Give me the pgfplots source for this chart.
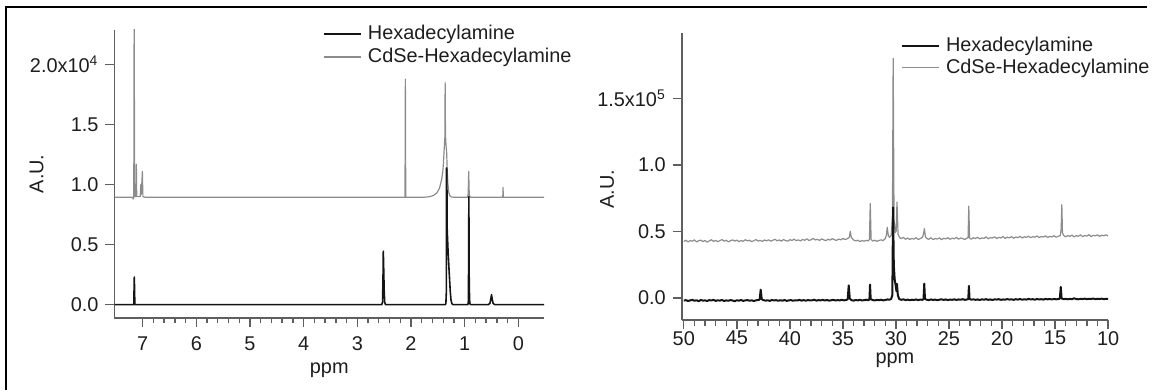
\documentclass[border=0pt]{standalone}
\usepackage{fontspec}
\setmainfont{Liberation Sans}
\usepackage{pgfplots}
\pgfplotsset{compat=1.18}

\definecolor{axisgray}{RGB}{95,95,95}
\definecolor{txt}{RGB}{30,30,30}
\definecolor{hda}{RGB}{20,20,20}
\definecolor{cdse}{RGB}{140,140,140}

\pgfplotsset{
  nmr/.style={
    scale only axis,
    axis lines*=left,
    axis line style={axisgray, line width=0.75pt},
    every tick/.style={axisgray, line width=0.7pt},
    tick align=outside,
    major tick length=4.5pt,
    minor tick length=2.8pt,
    x dir=reverse,
    ytick pos=left, xtick pos=bottom,
    minor y tick num=0,
    minor x tick num=4,
    /pgf/number format/assume math mode=true,
    tick label style={txt},
    label style={txt},
    clip=true,
    legend cell align=left,
    legend image code/.code={\draw[##1] (0pt,0pt) -- (18.5pt,0pt); \path (20.3pt,0pt);},
    legend style={draw=none, fill=none, inner sep=0pt, outer sep=0pt,
      row sep=0.5pt, text=txt, nodes={inner sep=1.2pt}},
  },
  hdaline/.style={hda, line width=0.8pt, line join=round},
  cdseline/.style={cdse, line width=0.6pt, line join=round},
}

\begin{document}
\begin{tikzpicture}[font=\fontsize{10}{12}\selectfont]
% page extent and frame
\path (0pt,0pt) rectangle (576pt,196pt);
\draw[line width=1pt] (3.15pt,0pt) -- (3.15pt,192.65pt) -- (576pt,192.65pt);

% ---------------- 1H NMR ----------------
\begin{axis}[nmr,
  at={(57.5pt,36.35pt)}, anchor=south west,
  width=215.85pt, height=144.65pt,
  xmin=-0.48, xmax=7.525, ymin=-0.11, ymax=2.29,
  xtick={0,1,2,3,4,5,6,7},
  ytick={0,0.5,1,1.5,2},
  yticklabels={0.0,0.5,1.0,1.5,{2.0x10\textsuperscript{4}}},
  xticklabel style={yshift=-1.5pt},
  xlabel={ppm}, ylabel={A.U.},
  xlabel style={at={(axis description cs:0.5,-0.182)}, anchor=center},
  ylabel style={at={(axis description cs:-0.181,0.5)}, anchor=center},
  legend style={at={(axis cs:3.63,2.35)}, anchor=north west},
]
\addlegendimage{hdaline}
\addlegendentry{Hexadecylamine}
\addlegendimage{cdseline}
\addlegendentry{CdSe-Hexadecylamine}

% CdSe-Hexadecylamine
\addplot[cdseline, forget plot] coordinates {
(7.52,0.895)(7.30,0.895)(7.19,0.895)(7.175,0.88)(7.165,0.895)
(7.157,2.6)(7.150,0.90)(7.125,0.90)(7.117,1.17)(7.110,0.90)
(7.045,0.90)(7.035,1.00)(7.025,0.92)(7.005,1.11)(6.995,0.90)(6.95,0.895)
(2.112,0.895)(2.105,1.88)(2.098,0.895)
(1.75,0.895)(1.65,0.90)(1.58,0.91)(1.52,0.93)(1.47,0.97)(1.43,1.04)
(1.41,1.10)(1.395,1.18)(1.385,1.27)(1.375,1.35)(1.368,1.40)(1.364,1.85)
(1.358,1.42)(1.348,1.33)(1.336,1.27)(1.325,1.12)(1.313,1.01)(1.298,0.94)
(1.28,0.91)(1.25,0.897)(1.20,0.895)
(0.95,0.895)(0.935,0.92)(0.925,1.11)(0.915,0.92)(0.90,0.895)
(0.29,0.895)(0.285,0.976)(0.28,0.895)(-0.48,0.895)
};
% Hexadecylamine
\addplot[hdaline, forget plot] coordinates {
(7.52,0)(7.165,0)(7.155,0.23)(7.145,0)
(2.545,0)(2.53,0.02)(2.522,0.21)(2.516,0.445)(2.51,0.33)(2.50,0.12)(2.49,0.02)(2.475,0)
(1.36,0)(1.35,0.01)(1.342,0.1)(1.338,1.14)(1.332,1.12)(1.327,0.64)(1.31,0.45)
(1.29,0.28)(1.27,0.12)(1.255,0.04)(1.24,0.01)(1.22,0)
(0.94,0)(0.93,0.03)(0.922,0.9)(0.915,0.15)(0.905,0.01)(0.89,0)
(0.56,0)(0.53,0.01)(0.515,0.04)(0.50,0.083)(0.485,0.04)(0.47,0.01)(0.44,0)
(-0.48,0)
};
\end{axis}

% ---------------- 13C NMR ----------------
\begin{axis}[nmr,
  at={(342.5pt,35.15pt)}, anchor=south west,
  width=214.15pt, height=144.2pt,
  xmin=10, xmax=50.19, ymin=-0.168, ymax=1.99,
  xtick={10,15,20,25,30,35,40,45,50},
  ytick={0,0.5,1,1.5},
  yticklabels={0.0,0.5,1.0,{1.5x10\textsuperscript{5}}},
  xticklabel style={yshift=2.5pt},
  xlabel={ppm}, ylabel={A.U.},
  xlabel style={at={(axis description cs:0.5,-0.138)}, anchor=center},
  ylabel style={at={(axis description cs:-0.175,0.457)}, anchor=center},
  legend style={at={(axis cs:29.5,1.98)}, anchor=north west, row sep=0pt},
]
\addlegendimage{hdaline, line width=1pt}
\addlegendentry{Hexadecylamine}
\addlegendimage{cdseline}
\addlegendentry{CdSe-Hexadecylamine}

% CdSe-Hexadecylamine
\addplot[cdseline, forget plot] coordinates {
(50.0,.424)(49.8,.433)(49.6,.420)(49.4,.430)(49.2,.426)(49.0,.436)(48.8,.421)(48.6,.429)
(48.4,.434)(48.2,.423)(48.0,.431)(47.8,.419)(47.6,.428)(47.4,.437)(47.2,.425)(47.0,.432)
(46.8,.422)(46.6,.430)(46.4,.438)(46.2,.426)(46.0,.433)(45.8,.421)(45.6,.429)(45.4,.436)
(45.2,.427)(45.0,.434)(44.8,.423)(44.6,.431)(44.4,.425)(44.2,.437)(44.0,.428)(43.8,.433)
(43.6,.422)(43.4,.430)(43.2,.438)(43.0,.427)(42.8,.432)(42.6,.424)(42.4,.435)(42.2,.429)
(42.0,.436)(41.8,.426)(41.6,.433)(41.4,.440)(41.2,.429)(41.0,.435)(40.8,.427)(40.6,.438)
(40.4,.431)(40.2,.426)(40.0,.437)(39.8,.432)(39.6,.441)(39.4,.430)(39.2,.436)(39.0,.428)
(38.8,.439)(38.6,.433)(38.4,.444)(38.2,.431)(38.0,.437)(37.8,.447)(37.6,.435)(37.4,.440)
(37.2,.432)(37.0,.443)(36.8,.436)(36.6,.430)(36.4,.441)(36.2,.434)(36.0,.445)(35.8,.437)
(35.6,.432)(35.4,.442)(35.2,.436)(35.0,.446)(34.8,.439)(34.6,.444)(34.4,.455)(34.3,.50)
(34.2,.452)(34.0,.436)(33.8,.428)(33.6,.433)(33.4,.424)(33.2,.430)(33.0,.426)(32.8,.432)
(32.6,.428)(32.5,.44)(32.42,.71)(32.34,.44)(32.2,.427)(32.0,.433)(31.8,.425)(31.6,.431)
(31.4,.436)(31.2,.430)(31.0,.447)(30.9,.47)(30.82,.53)(30.72,.47)(30.6,.455)(30.45,.47)
(30.33,.60)(30.26,1.80)(30.18,.60)(30.08,.49)(29.98,.50)(29.9,.72)(29.8,.48)(29.65,.452)
(29.5,.446)(29.3,.455)(29.1,.440)(28.9,.450)(28.7,.438)(28.5,.447)(28.3,.441)(28.1,.452)
(27.9,.439)(27.7,.446)(27.5,.455)(27.4,.48)(27.32,.52)(27.22,.46)(27.1,.447)(26.9,.440)
(26.7,.452)(26.5,.438)(26.3,.446)(26.1,.442)(25.9,.451)(25.7,.437)(25.5,.448)(25.3,.443)
(25.1,.452)(24.9,.440)(24.7,.449)(24.5,.444)(24.3,.455)(24.1,.441)(23.9,.450)(23.7,.445)
(23.5,.439)(23.3,.449)(23.2,.452)(23.13,.69)(23.06,.45)(22.9,.441)(22.7,.452)(22.5,.446)
(22.3,.455)(22.1,.443)(21.9,.451)(21.7,.447)(21.5,.458)(21.3,.444)(21.1,.453)(20.9,.449)
(20.7,.459)(20.5,.446)(20.3,.455)(20.1,.450)(19.9,.461)(19.7,.447)(19.5,.456)(19.3,.451)
(19.1,.460)(18.9,.448)(18.7,.457)(18.5,.453)(18.3,.462)(18.1,.450)(17.9,.459)(17.7,.455)
(17.5,.464)(17.3,.452)(17.1,.460)(16.9,.456)(16.7,.465)(16.5,.453)(16.3,.461)(16.1,.457)
(15.9,.466)(15.7,.454)(15.5,.462)(15.3,.458)(15.1,.467)(14.9,.456)(14.7,.463)(14.5,.468)
(14.42,.52)(14.36,.70)(14.3,.49)(14.2,.470)(14.0,.459)(13.8,.468)(13.6,.462)(13.4,.472)
(13.2,.458)(13.0,.467)(12.8,.463)(12.6,.474)(12.4,.460)(12.2,.469)(12.0,.464)(11.8,.475)
(11.6,.461)(11.4,.470)(11.2,.466)(11.0,.473)(10.8,.462)(10.6,.471)(10.4,.467)(10.2,.474)
(10.0,.465)
};
% Hexadecylamine
\addplot[hdaline, line width=1pt, forget plot] coordinates {
(50.0,-.021)(49.8,-.017)(49.6,-.024)(49.4,-.019)(49.2,-.015)(49.0,-.022)(48.8,-.018)(48.6,-.025)
(48.4,-.016)(48.2,-.021)(48.0,-.019)(47.8,-.024)(47.6,-.017)(47.4,-.020)(47.2,-.015)(47.0,-.023)
(46.8,-.018)(46.6,-.021)(46.4,-.016)(46.2,-.024)(46.0,-.019)(45.8,-.022)(45.6,-.017)(45.4,-.020)
(45.2,-.025)(45.0,-.018)(44.8,-.021)(44.6,-.016)(44.4,-.023)(44.2,-.019)(44.0,-.017)(43.8,-.022)
(43.6,-.018)(43.4,-.024)(43.2,-.019)(43.0,-.016)(42.85,-.014)(42.75,.062)(42.65,-.010)(42.5,-.017)
(42.3,-.021)(42.1,-.018)(41.9,-.023)(41.7,-.016)(41.5,-.020)(41.3,-.017)(41.1,-.022)(40.9,-.018)
(40.7,-.021)(40.5,-.016)(40.3,-.023)(40.1,-.019)(39.9,-.017)(39.7,-.022)(39.5,-.018)(39.3,-.020)
(39.1,-.015)(38.9,-.021)(38.7,-.017)(38.5,-.022)(38.3,-.016)(38.1,-.020)(37.9,-.018)(37.7,-.014)
(37.5,-.021)(37.3,-.017)(37.1,-.019)(36.9,-.015)(36.7,-.020)(36.5,-.016)(36.3,-.021)(36.1,-.018)
(35.9,-.015)(35.7,-.020)(35.5,-.017)(35.3,-.019)(35.1,-.014)(34.9,-.019)(34.7,-.016)(34.55,-.012)
(34.45,.094)(34.35,-.006)(34.2,-.017)(34.0,-.021)(33.8,-.016)(33.6,-.019)(33.4,-.015)(33.2,-.020)
(33.0,-.017)(32.8,-.014)(32.6,-.018)(32.5,-.012)(32.44,.10)(32.38,-.010)(32.2,-.016)(32.0,-.020)
(31.8,-.015)(31.6,-.018)(31.4,-.014)(31.2,-.019)(31.0,-.016)(30.8,-.012)(30.6,-.014)(30.45,-.008)
(30.34,.02)(30.27,.68)(30.2,.25)(30.12,.14)(30.02,.09)(29.95,.05)(29.9,.105)(29.82,.02)
(29.7,-.008)(29.5,-.015)(29.3,-.011)(29.1,-.017)(28.9,-.013)(28.7,-.018)(28.5,-.014)(28.3,-.016)
(28.1,-.012)(27.9,-.017)(27.7,-.013)(27.5,-.015)(27.4,-.010)(27.33,.107)(27.26,-.008)(27.1,-.014)
(26.9,-.017)(26.7,-.012)(26.5,-.016)(26.3,-.013)(26.1,-.018)(25.9,-.014)(25.7,-.011)(25.5,-.016)
(25.3,-.012)(25.1,-.017)(24.9,-.013)(24.7,-.015)(24.5,-.011)(24.3,-.016)(24.1,-.012)(23.9,-.014)
(23.7,-.010)(23.5,-.015)(23.3,-.012)(23.18,-.010)(23.12,.09)(23.06,-.008)(22.9,-.014)(22.7,-.011)
(22.5,-.015)(22.3,-.012)(22.1,-.016)(21.9,-.011)(21.7,-.014)(21.5,-.010)(21.3,-.015)(21.1,-.012)
(20.9,-.016)(20.7,-.011)(20.5,-.013)(20.3,-.010)(20.1,-.015)(19.9,-.012)(19.7,-.014)(19.5,-.009)
(19.3,-.013)(19.1,-.011)(18.9,-.015)(18.7,-.010)(18.5,-.013)(18.3,-.009)(18.1,-.014)(17.9,-.011)
(17.7,-.013)(17.5,-.008)(17.3,-.012)(17.1,-.010)(16.9,-.014)(16.7,-.009)(16.5,-.012)(16.3,-.010)
(16.1,-.013)(15.9,-.008)(15.7,-.011)(15.5,-.009)(15.3,-.012)(15.1,-.008)(14.9,-.011)(14.7,-.009)
(14.55,-.006)(14.46,.082)(14.38,-.004)(14.2,-.010)(14.0,-.007)(13.8,-.011)(13.6,-.008)(13.4,-.010)
(13.2,-.003)(13.0,-.009)(12.8,-.011)(12.6,-.007)(12.4,-.009)(12.2,-.006)(12.0,-.010)(11.8,-.007)
(11.6,-.009)(11.4,-.005)(11.2,-.010)(11.0,-.007)(10.8,-.009)(10.6,-.006)(10.4,-.010)(10.2,-.007)
(10.0,-.008)
};
\end{axis}
\end{tikzpicture}
\end{document}
